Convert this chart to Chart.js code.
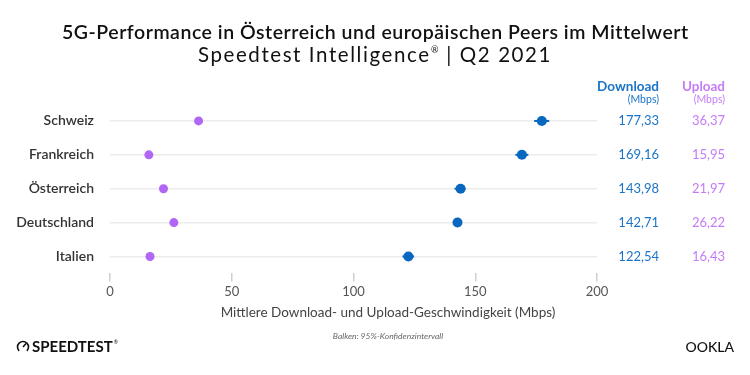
<!DOCTYPE html>
<html><head><meta charset="utf-8">
<script src="https://cdn.jsdelivr.net/npm/chart.js@4"></script>
<style>html,body{margin:0;padding:0;background:#fff}#wrap{width:750px;height:375px}</style>
</head><body><div id="wrap"><canvas id="c" width="750" height="375"></canvas></div>
<script>
const countries = ['Schweiz','Frankreich','Österreich','Deutschland','Italien'];
const download = [177.33, 169.16, 143.98, 142.71, 122.54];
const upload = [36.37, 15.95, 21.97, 26.22, 16.43];
const dlLow = [174.2, 166.5, 141.5, 142.3, 120.1];
const dlHigh = [180.4, 171.8, 146.0, 143.1, 124.9];
const downloadLabels = ['177,33','169,16','143,98','142,71','122,54'];
const uploadLabels = ['36,37','15,95','21,97','26,22','16,43'];
const xTicks = [0, 50, 100, 150, 200];
const titleText = '5G-Performance in Österreich und europäischen Peers im Mittelwert';
const subtitleText = 'Speedtest Intelligence';
const subtitleRest = ' | Q2 2021';

const BLUE = '#0867bf', PURPLE = '#b266f5';
const BLUE_T = '#1a74c8', PURPLE_T = '#c47cf6';
const FONT = 'Lato, "Open Sans", sans-serif';

function spacedText(ctx, text, font, target) {
  ctx.font = font;
  ctx.letterSpacing = '0px';
  const w = ctx.measureText(text).width;
  const ls = Math.max(0, (target - w) / text.length);
  ctx.letterSpacing = ls.toFixed(3) + 'px';
  return ls;
}

const overlay = {
  id: 'overlay',
  beforeDatasetsDraw(chart) {
    const {ctx, scales: {x, y}} = chart;
    ctx.save();
    ctx.strokeStyle = BLUE; ctx.lineWidth = 2;
    countries.forEach((c, i) => {
      const yy = y.getPixelForValue(c);
      ctx.beginPath();
      ctx.moveTo(x.getPixelForValue(dlLow[i]), yy);
      ctx.lineTo(x.getPixelForValue(dlHigh[i]), yy);
      ctx.stroke();
    });
    ctx.restore();
  },
  afterDraw(chart) {
    const {ctx, scales: {x, y}} = chart;
    ctx.save();
    ctx.textBaseline = 'middle';
    // title
    ctx.textAlign = 'left'; ctx.fillStyle = '#111';
    spacedText(ctx, titleText, '600 19.5px ' + FONT, 626);
    ctx.fillText(titleText, 62, 33);
    // subtitle with superscript ®
    const subFont = '400 20.5px ' + FONT;
    ctx.letterSpacing = '0px';
    ctx.font = subFont;
    const a = ctx.measureText(subtitleText).width, b = ctx.measureText(subtitleRest).width;
    ctx.font = '400 9px ' + FONT;
    const r = ctx.measureText('®').width + 1.5;
    const nChars = subtitleText.length + subtitleRest.length;
    const ls = Math.max(0, (354 - a - b - r) / nChars);
    const total = a + b + r + ls * nChars;
    ctx.letterSpacing = ls.toFixed(3) + 'px';
    ctx.font = subFont;
    const a2 = ctx.measureText(subtitleText).width;
    let sx = 375 - total / 2;
    ctx.fillText(subtitleText, sx, 55);
    ctx.letterSpacing = '0px';
    ctx.font = '400 9px ' + FONT;
    ctx.fillText('®', sx + a2 + 0.5, 50);
    ctx.letterSpacing = ls.toFixed(3) + 'px';
    ctx.font = subFont;
    ctx.fillText(subtitleRest, sx + a2 + r, 55);
    ctx.letterSpacing = '0px';
    // headers
    ctx.textAlign = 'right';
    ctx.fillStyle = BLUE_T; ctx.font = 'bold 13.5px ' + FONT;
    ctx.fillText('Download', 659, 87);
    ctx.fillStyle = PURPLE_T;
    ctx.fillText('Upload', 725, 87);
    ctx.font = '10.5px ' + FONT;
    ctx.fillStyle = BLUE_T; ctx.fillText('(Mbps)', 659, 100);
    ctx.fillStyle = PURPLE_T; ctx.fillText('(Mbps)', 725, 100);
    // values
    ctx.font = '13px ' + FONT;
    countries.forEach((c, i) => {
      const yy = y.getPixelForValue(c);
      ctx.fillStyle = BLUE_T; ctx.fillText(downloadLabels[i], 659, yy);
      ctx.fillStyle = PURPLE_T; ctx.fillText(uploadLabels[i], 725, yy);
    });
    // axis title
    ctx.textAlign = 'center';
    ctx.fillStyle = '#444';
    ctx.font = '13.5px ' + FONT;
    ctx.fillText('Mittlere Download- und Upload-Geschwindigkeit (Mbps)', 388, 313);
    // footnote
    ctx.font = 'italic 8.5px ' + FONT;
    ctx.fillStyle = '#666';
    ctx.fillText('Balken: 95%-Konfidenzintervall', 388, 336);
    // Speedtest logo
    ctx.strokeStyle = '#111'; ctx.lineWidth = 1.6;
    ctx.beginPath(); ctx.arc(23, 347, 5.5, Math.PI * 0.75, Math.PI * 2.25); ctx.stroke();
    ctx.beginPath(); ctx.moveTo(23, 347); ctx.lineTo(26, 343.5); ctx.stroke();
    ctx.textAlign = 'left'; ctx.fillStyle = '#111';
    ctx.font = 'bold 15px ' + FONT;
    ctx.fillText('SPEEDTEST', 32, 347.5);
    const sw = ctx.measureText('SPEEDTEST').width;
    ctx.font = '5px ' + FONT; ctx.fillText('®', 33 + sw, 342);
    // Ookla logo
    ctx.font = '500 14px ' + FONT;
    ctx.textAlign = 'right';
    ctx.fillText('OOKLA', 734, 347.5);
    ctx.restore();
  }
};

new Chart(document.getElementById('c'), {
  type: 'scatter',
  data: {
    datasets: [
      { label: 'Upload', data: countries.map((c, i) => ({x: upload[i], y: c})),
        backgroundColor: PURPLE, borderColor: PURPLE, pointRadius: 4.5, pointBorderWidth: 0 },
      { label: 'Download', data: countries.map((c, i) => ({x: download[i], y: c})),
        backgroundColor: BLUE, borderColor: BLUE, pointRadius: 5, pointBorderWidth: 0 }
    ]
  },
  options: {
    responsive: false, animation: false,
    layout: { padding: { left: 0, right: 153, top: 104, bottom: 72 } },
    plugins: { legend: { display: false }, tooltip: { enabled: false } },
    scales: {
      x: { type: 'linear', min: 0, max: 200,
        afterBuildTicks: s => { s.ticks = xTicks.map(v => ({value: v})); },
        grid: { drawOnChartArea: false, tickLength: 8, color: '#cfcfcf', lineWidth: 1.5 },
        border: { display: false },
        ticks: { color: '#555', font: { family: FONT, size: 13 }, padding: 3 } },
      y: { type: 'category', labels: countries, offset: true,
        afterFit: s => { s.width = 110; },
        grid: { offset: false, drawTicks: false, color: '#ececec', lineWidth: 1.5 },
        border: { display: false },
        ticks: { color: '#333', font: { family: FONT, size: 14, weight: '600' }, padding: 16 } }
    }
  },
  plugins: [overlay]
});
</script></body></html>
